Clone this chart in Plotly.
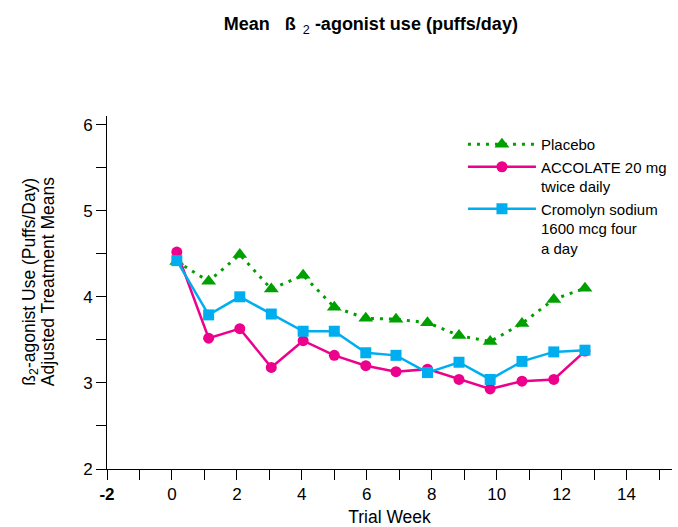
import plotly.graph_objects as go

weeks = [0.15, 1.13, 2.09, 3.06, 4.04, 5.0, 5.97, 6.9, 7.87, 8.84, 9.8, 10.78, 11.76, 12.72]
placebo = [4.41, 4.18, 4.49, 4.09, 4.25, 3.88, 3.75, 3.74, 3.70, 3.55, 3.48, 3.69, 3.97, 4.10]
accolate = [4.52, 3.52, 3.63, 3.18, 3.49, 3.32, 3.20, 3.13, 3.16, 3.04, 2.93, 3.02, 3.04, 3.37]
cromolyn = [4.42, 3.79, 4.00, 3.80, 3.60, 3.60, 3.35, 3.32, 3.12, 3.24, 3.04, 3.25, 3.36, 3.38]

x_tickvals = [-2, 0, 2, 4, 6, 8, 10, 12, 14]
x_ticktext = ["<b>-2</b>", "0", "2", "4", "6", "8", "10", "12", "14"]
y_tickvals = [2, 3, 4, 5, 6]

GREEN = "#00A000"
MAGENTA = "#EC008C"
CYAN = "#00AEEF"
FONT = "Arial, Liberation Sans, sans-serif"

fig = go.Figure()
fig.add_trace(go.Scatter(
    x=weeks, y=placebo, name="Placebo", mode="lines+markers",
    line=dict(color=GREEN, width=3, dash="3px,6px"),
    marker=dict(symbol="triangle-up", size=13, color=GREEN),
))
fig.add_trace(go.Scatter(
    x=weeks, y=accolate, name="ACCOLATE 20 mg<br>twice daily", mode="lines+markers",
    line=dict(color=MAGENTA, width=2.5),
    marker=dict(symbol="circle", size=11, color=MAGENTA),
))
fig.add_trace(go.Scatter(
    x=weeks, y=cromolyn, name="Cromolyn sodium<br>1600 mcg four<br>a day", mode="lines+markers",
    line=dict(color=CYAN, width=2.5),
    marker=dict(symbol="square", size=11, color=CYAN),
))

axis_common = dict(
    showline=True, linecolor="black", linewidth=1, mirror=False,
    showgrid=False, zeroline=False, automargin=False,
    ticks="outside", ticklen=10, tickwidth=1, tickcolor="black",
    tickfont=dict(family=FONT, size=17, color="black"),
)

fig.update_layout(
    width=678, height=527,
    margin=dict(l=107, r=6, t=116, b=58),
    paper_bgcolor="white", plot_bgcolor="white",
    font=dict(family=FONT, color="black"),
    title=dict(
        text="<b>Mean\u00a0\u00a0\u00a0ß</b><sub>\u00a0\u00a02</sub>\u00a0<b>-agonist use (puffs/day)</b>",
        xref="container", x=0.547, xanchor="center",
        yref="container", y=0.955, yanchor="middle",
        font=dict(family=FONT, size=18, color="black"),
    ),
    xaxis=dict(
        range=[-2, 15.4], tickmode="array", tickvals=x_tickvals, ticktext=x_ticktext,
        minor=dict(dtick=1, tick0=0, ticks="outside", ticklen=10, tickcolor="black", showgrid=False),
        title=dict(text="Trial Week", font=dict(family=FONT, size=17.5, color="black"), standoff=17),
        **axis_common,
    ),
    yaxis=dict(
        range=[2, 6.1], tickmode="array", tickvals=y_tickvals,
        minor=dict(dtick=0.5, tick0=2, ticks="outside", ticklen=10, tickcolor="black", showgrid=False),
        **axis_common,
    ),
    showlegend=True,
    legend=dict(
        x=0.630, y=0.966, xanchor="left", yanchor="top",
        bgcolor="rgba(0,0,0,0)", borderwidth=0,
        font=dict(family=FONT, size=15, color="black"),
        itemwidth=68, valign="top", tracegroupgap=0,
    ),
    annotations=[
        dict(text="ß<sub>2</sub>-agonist Use (Puffs/Day)", textangle=-90,
             xref="paper", yref="paper", x=-0.135, y=0.53, xanchor="center", yanchor="middle",
             showarrow=False, font=dict(family=FONT, size=17.5, color="black")),
        dict(text="Adjusted Treatment Means", textangle=-90,
             xref="paper", yref="paper", x=-0.104, y=0.53, xanchor="center", yanchor="middle",
             showarrow=False, font=dict(family=FONT, size=17.5, color="black")),
    ],
)

fig.write_html(
    "out.html",
    config={"displayModeBar": False},
    post_script="document.body.style.margin='0';document.body.style.overflow='hidden';",
)
